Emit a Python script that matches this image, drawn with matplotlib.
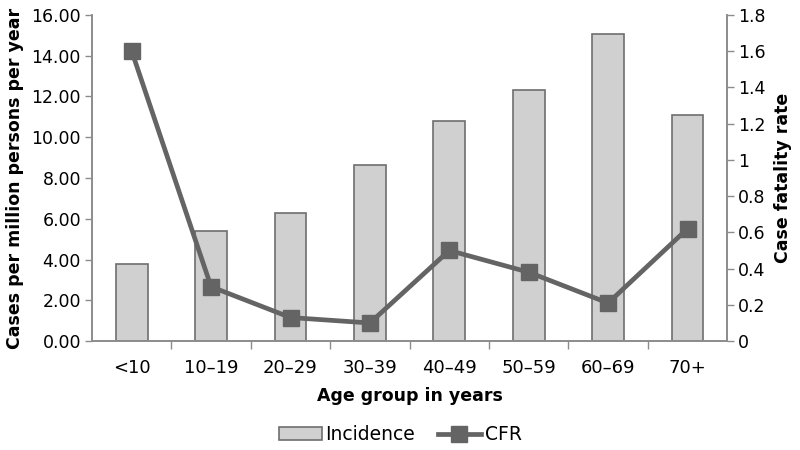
import numpy as np
import matplotlib
matplotlib.use("Agg")
import matplotlib.pyplot as plt

# data
age_groups = ["<10", "10\u201319", "20\u201329", "30\u201339", "40\u201349", "50\u201359", "60\u201369", "70+"]
incidence = [3.8, 5.4, 6.3, 8.65, 10.8, 12.3, 15.05, 11.1]
cfr = [1.6, 0.30, 0.13, 0.10, 0.50, 0.38, 0.21, 0.62]

plt.rcParams['font.family'] = ['DejaVu Sans']

bar_fill = "#d0d0d0"
edge = "#6e6e6e"
line_col = "#646464"
axis_col = "#8c8c8c"

fig = plt.figure(figsize=(8, 4.5), dpi=100)
ax = fig.add_axes([0.115, 0.242, 0.794, 0.725])
ax2 = ax.twinx()

x = np.arange(len(age_groups))
bars = ax.bar(x, incidence, width=0.4, color=bar_fill, edgecolor=edge, linewidth=1.2,
              label="Incidence", zorder=2)
line, = ax2.plot(x, cfr, color=line_col, linewidth=3.4, marker="s", markersize=12,
                 label="CFR", zorder=3)

ax.set_xlim(-0.5, len(age_groups) - 0.5)
ax.set_ylim(0, 16)
ax.set_yticks(np.arange(0, 16.1, 2))
ax.set_yticklabels(["%.2f" % v for v in np.arange(0, 16.1, 2)])
ax2.set_ylim(0, 1.8)
r_ticks = np.arange(0, 1.81, 0.2)
ax2.set_yticks(r_ticks)
ax2.set_yticklabels(["%g" % round(v, 1) for v in r_ticks])

ax.set_xticks(x)
ax.set_xticklabels(age_groups)
ax.set_xticks(np.arange(0.5, len(age_groups) - 0.5, 1), minor=True)
ax.tick_params(axis="x", which="major", length=0, labelsize=13, pad=13)
ax.tick_params(axis="x", which="minor", length=6, color=axis_col, width=1)
ax.tick_params(axis="y", length=5, color=axis_col, width=1, labelsize=12.5, pad=3)
ax2.tick_params(axis="y", length=5, color=axis_col, width=1, labelsize=12.5, pad=3)

for a in (ax, ax2):
    a.spines["top"].set_visible(False)
    for s in ("left", "right", "bottom"):
        a.spines[s].set_color(axis_col)
        a.spines[s].set_linewidth(1.2)

ax.set_xlabel("Age group in years", fontsize=12.5, fontweight="bold", labelpad=7)
ax.set_ylabel("Cases per million persons per year", fontsize=12.5, fontweight="bold", labelpad=5)
ax2.set_ylabel("Case fatality rate", fontsize=12.5, fontweight="bold", labelpad=6)

fig.legend(handles=[bars, line], labels=["Incidence", "CFR"], loc="lower center",
           bbox_to_anchor=(0.5, -0.025), ncol=2, frameon=False, fontsize=13.5,
           handlelength=2.3, columnspacing=1.2, handletextpad=0.2)

fig.savefig("out.png", dpi=100)
